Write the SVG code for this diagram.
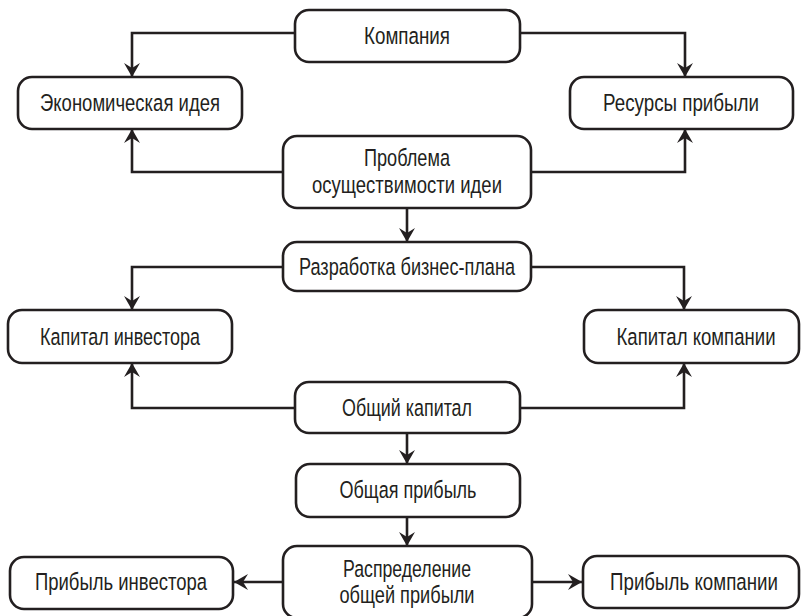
<svg xmlns="http://www.w3.org/2000/svg" width="804" height="616" viewBox="0 0 804 616">
<defs>
<marker id="arr" markerUnits="userSpaceOnUse" markerWidth="18" markerHeight="18" viewBox="-1 -9 16 18" refX="14" refY="0" orient="auto">
<path d="M0,-8 L14,0 L0,8 L5,0 Z" fill="#231f20"/>
</marker>
<style>
.box{fill:#fff;stroke:#231f20;stroke-width:2.6}
.lbl{font-family:"Liberation Sans","DejaVu Sans",sans-serif;font-size:24.5px;fill:#231f20;text-anchor:middle}
.con{fill:none;stroke:#231f20;stroke-width:2.6;marker-end:url(#arr)}
</style>
</defs>
<rect width="804" height="616" fill="#fff"/>
<g id="connectors">
<path class="con" d="M295,33 H132 V77"/>
<path class="con" d="M520,33 H685 V77"/>
<path class="con" d="M283,172 H132 V129"/>
<path class="con" d="M531,172 H685 V129"/>
<path class="con" d="M407,208 V242"/>
<path class="con" d="M283,267 H132 V310"/>
<path class="con" d="M531,267 H684 V310"/>
<path class="con" d="M295,408 H132 V363"/>
<path class="con" d="M520,408 H684 V363"/>
<path class="con" d="M407,433 V464"/>
<path class="con" d="M407,517 V546"/>
<path class="con" d="M283,582 H234"/>
<path class="con" d="M532,582 H582"/>
</g>
<g id="n-kompaniya">
<rect class="box" x="295" y="10" width="225" height="52" rx="14"/>
<text class="lbl" x="407" y="44" textLength="86" lengthAdjust="spacingAndGlyphs">Компания</text>
</g>
<g id="n-ideya">
<rect class="box" x="18" y="77" width="224" height="52" rx="14"/>
<text class="lbl" x="130" y="111" textLength="180" lengthAdjust="spacingAndGlyphs">Экономическая идея</text>
</g>
<g id="n-resursy">
<rect class="box" x="570" y="77" width="223" height="52" rx="14"/>
<text class="lbl" x="681" y="111" textLength="156" lengthAdjust="spacingAndGlyphs">Ресурсы прибыли</text>
</g>
<g id="n-problema">
<rect class="box" x="283" y="136" width="248" height="72" rx="14"/>
<text class="lbl" x="407" y="166" textLength="86" lengthAdjust="spacingAndGlyphs">Проблема</text>
<text class="lbl" x="407" y="193" textLength="190" lengthAdjust="spacingAndGlyphs">осуществимости идеи</text>
</g>
<g id="n-razrabotka">
<rect class="box" x="283" y="242" width="248" height="49" rx="14"/>
<text class="lbl" x="407" y="275" textLength="216" lengthAdjust="spacingAndGlyphs">Разработка бизнес-плана</text>
</g>
<g id="n-kap-investora">
<rect class="box" x="8" y="310" width="224" height="53" rx="14"/>
<text class="lbl" x="120" y="345" textLength="160" lengthAdjust="spacingAndGlyphs">Капитал инвестора</text>
</g>
<g id="n-kap-kompanii">
<rect class="box" x="584" y="310" width="215" height="53" rx="14"/>
<text class="lbl" x="696" y="345" textLength="159" lengthAdjust="spacingAndGlyphs">Капитал компании</text>
</g>
<g id="n-obshiy-kapital">
<rect class="box" x="295" y="382" width="225" height="51" rx="14"/>
<text class="lbl" x="407" y="416" textLength="130" lengthAdjust="spacingAndGlyphs">Общий капитал</text>
</g>
<g id="n-obshaya-pribyl">
<rect class="box" x="296" y="464" width="224" height="53" rx="14"/>
<text class="lbl" x="408" y="498" textLength="137" lengthAdjust="spacingAndGlyphs">Общая прибыль</text>
</g>
<g id="n-raspredelenie">
<rect class="box" x="283" y="546" width="249" height="72" rx="14"/>
<text class="lbl" x="407" y="577" textLength="128" lengthAdjust="spacingAndGlyphs">Распределение</text>
<text class="lbl" x="407" y="603" textLength="135" lengthAdjust="spacingAndGlyphs">общей прибыли</text>
</g>
<g id="n-pribyl-investora">
<rect class="box" x="10" y="557" width="223" height="52" rx="14"/>
<text class="lbl" x="121" y="590" textLength="172" lengthAdjust="spacingAndGlyphs">Прибыль инвестора</text>
</g>
<g id="n-pribyl-kompanii">
<rect class="box" x="583" y="556" width="216" height="52" rx="14"/>
<text class="lbl" x="694" y="590" textLength="168" lengthAdjust="spacingAndGlyphs">Прибыль компании</text>
</g>
</svg>
